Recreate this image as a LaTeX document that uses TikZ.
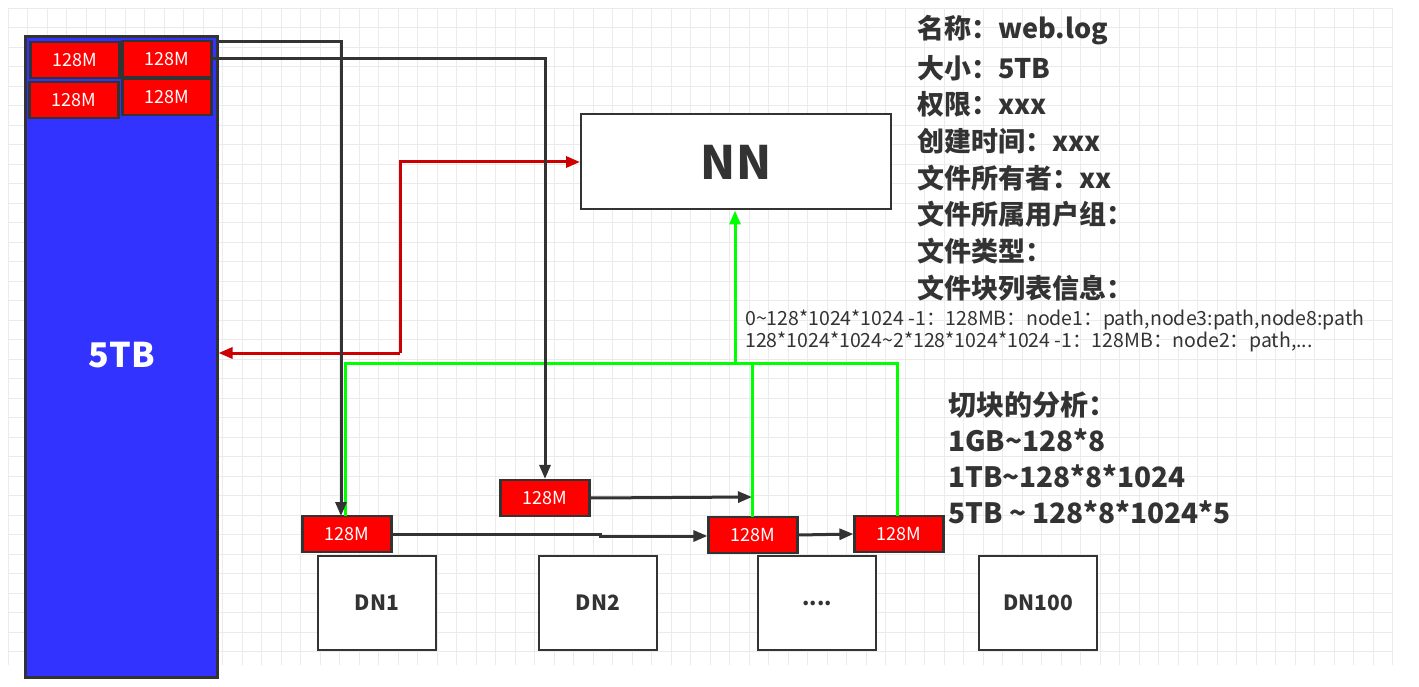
\documentclass[tikz,border=0pt]{standalone}
\usepackage{fontspec}
\setmainfont{Noto Sans CJK SC}
\usetikzlibrary{arrows.meta}
\definecolor{blk}{HTML}{333333}
\definecolor{fileblue}{HTML}{3333FF}
\definecolor{redline}{HTML}{CC0000}
\definecolor{grn}{HTML}{00FF00}
\tikzset{
	block/.style={draw=blk, line width=2.2pt, fill=red, text=white, minimum width=89pt, minimum height=36pt, inner sep=0pt, font=\fontsize{18}{18}\selectfont},
	dn/.style={draw=blk, line width=1.5pt, fill=white, minimum width=118pt, minimum height=94pt, font=\fontsize{21}{21}\selectfont\bfseries, text=blk},
	info/.style={anchor=west, text=blk, font=\fontsize{27}{27}\selectfont\bfseries, inner sep=0pt},
	flow/.style={draw=blk, line width=3pt, -{Triangle[length=14pt,width=11pt]}},
	link/.style={line width=3pt},
}
\begin{document}
\begin{tikzpicture}[x=1pt,y=-1pt]
	\useasboundingbox (0,0) rectangle (1419,687);
	\fill[white] (0,0) rectangle (1419,687);
	\foreach \i in {0,...,71} \draw[black!8, line width=0.8pt] (8+19.5*\i,8) -- (8+19.5*\i,665);
	\foreach \j in {0,...,33} \draw[black!8, line width=0.8pt] (8,8+19.5*\j) -- (1392,8+19.5*\j);

	% file
	\node[draw=blk, line width=3pt, fill=fileblue, minimum width=192pt, minimum height=640pt, inner sep=0pt] (file) at (121,357) {};
	\node[text=white, font=\fontsize{34}{34}\selectfont\bfseries] (filelabel) at (122,355) {5TB};
	\node[block] (b1) at (75,60) {128M};
	\node[block] (b2) at (167,59) {128M};
	\node[block] (b3) at (74,100) {128M};
	\node[block] (b4) at (167,97) {128M};

	% namenode
	\node[draw=blk, line width=2pt, fill=white, minimum width=310pt, minimum height=95pt, font=\fontsize{46}{46}\selectfont\bfseries, text=blk] (nn) at (736,162) {NN};

	\node[info] (m1) at (917,30) {名称：web.log};
	\node[info] (m2) at (917,68) {大小：5TB};
	\node[info] (m3) at (917,104) {权限：xxx};
	\node[info] (m4) at (917,141) {创建时间：xxx};
	\node[info] (m5) at (917,178) {文件所有者：xx};
	\node[info] (m6) at (917,214) {文件所属用户组：};
	\node[info] (m7) at (917,251) {文件类型：};
	\node[info] (m8) at (917,288) {文件块列表信息：};
	\node[anchor=west, inner sep=0pt, text=blk, font=\fontsize{19.5}{19.5}\selectfont] (r1) at (745,320) {0\textasciitilde128*1024*1024 -1：128MB：node1：path,node3:path,node8:path};
	\node[anchor=west, inner sep=0pt, text=blk, font=\fontsize{19.5}{19.5}\selectfont] (r2) at (745,342) {128*1024*1024\textasciitilde2*128*1024*1024 -1：128MB：node2：path,...};

	\node[info, font=\fontsize{28}{28}\selectfont\bfseries] (c1) at (948,405) {切块的分析：};
	\node[info, font=\fontsize{28}{28}\selectfont\bfseries] (c2) at (948,440) {1GB\textasciitilde128*8};
	\node[info, font=\fontsize{28}{28}\selectfont\bfseries] (c3) at (948,476) {1TB\textasciitilde128*8*1024};
	\node[info, font=\fontsize{28}{28}\selectfont\bfseries] (c4) at (948,512) {5TB \textasciitilde{} 128*8*1024*5};

	% datanodes
	\node[dn] (dn1) at (377,603) {DN1};
	\node[dn] (dn2) at (598,603) {DN2};
	\node[dn] (dn3) at (817,603) {....};
	\node[dn] (dn4) at (1038,603) {DN100};

	\node[block] (k1) at (347,534) {128M};
	\node[block] (k2) at (545,498) {128M};
	\node[block] (k3) at (753,535) {128M};
	\node[block] (k4) at (899,534) {128M};

	% green reports
	\coordinate (g) at (735,363);
	\draw[grn, link] (345,516) -- (345,363) -- (897,363) -- (897,516);
	\draw[grn, link] (752,517) -- (752,363);
	\draw[grn, link, -{Triangle[length=14pt,width=11pt]}] (g) -- (nn.south -| g);

	% client
	\coordinate (r) at (400,353);
	\draw[redline, link, -{Triangle[length=14pt,width=11pt]}] (r) -- (file.east |- r);
	\draw[redline, link, -{Triangle[length=14pt,width=11pt]}] (r) |- (nn.west);

	% writes
	\draw[flow] (217,42) -| (341,516);
	\draw[flow] (b2.east) -| (k2.north);
	\draw[flow] (k2.east) -- (752,497);
	\draw[flow] (k1.east) -- (600,534) -- (600,536) -- (k3.west |- 0,536);
	\draw[flow] (k3.east) -- (k4.west);
\end{tikzpicture}
\end{document}
